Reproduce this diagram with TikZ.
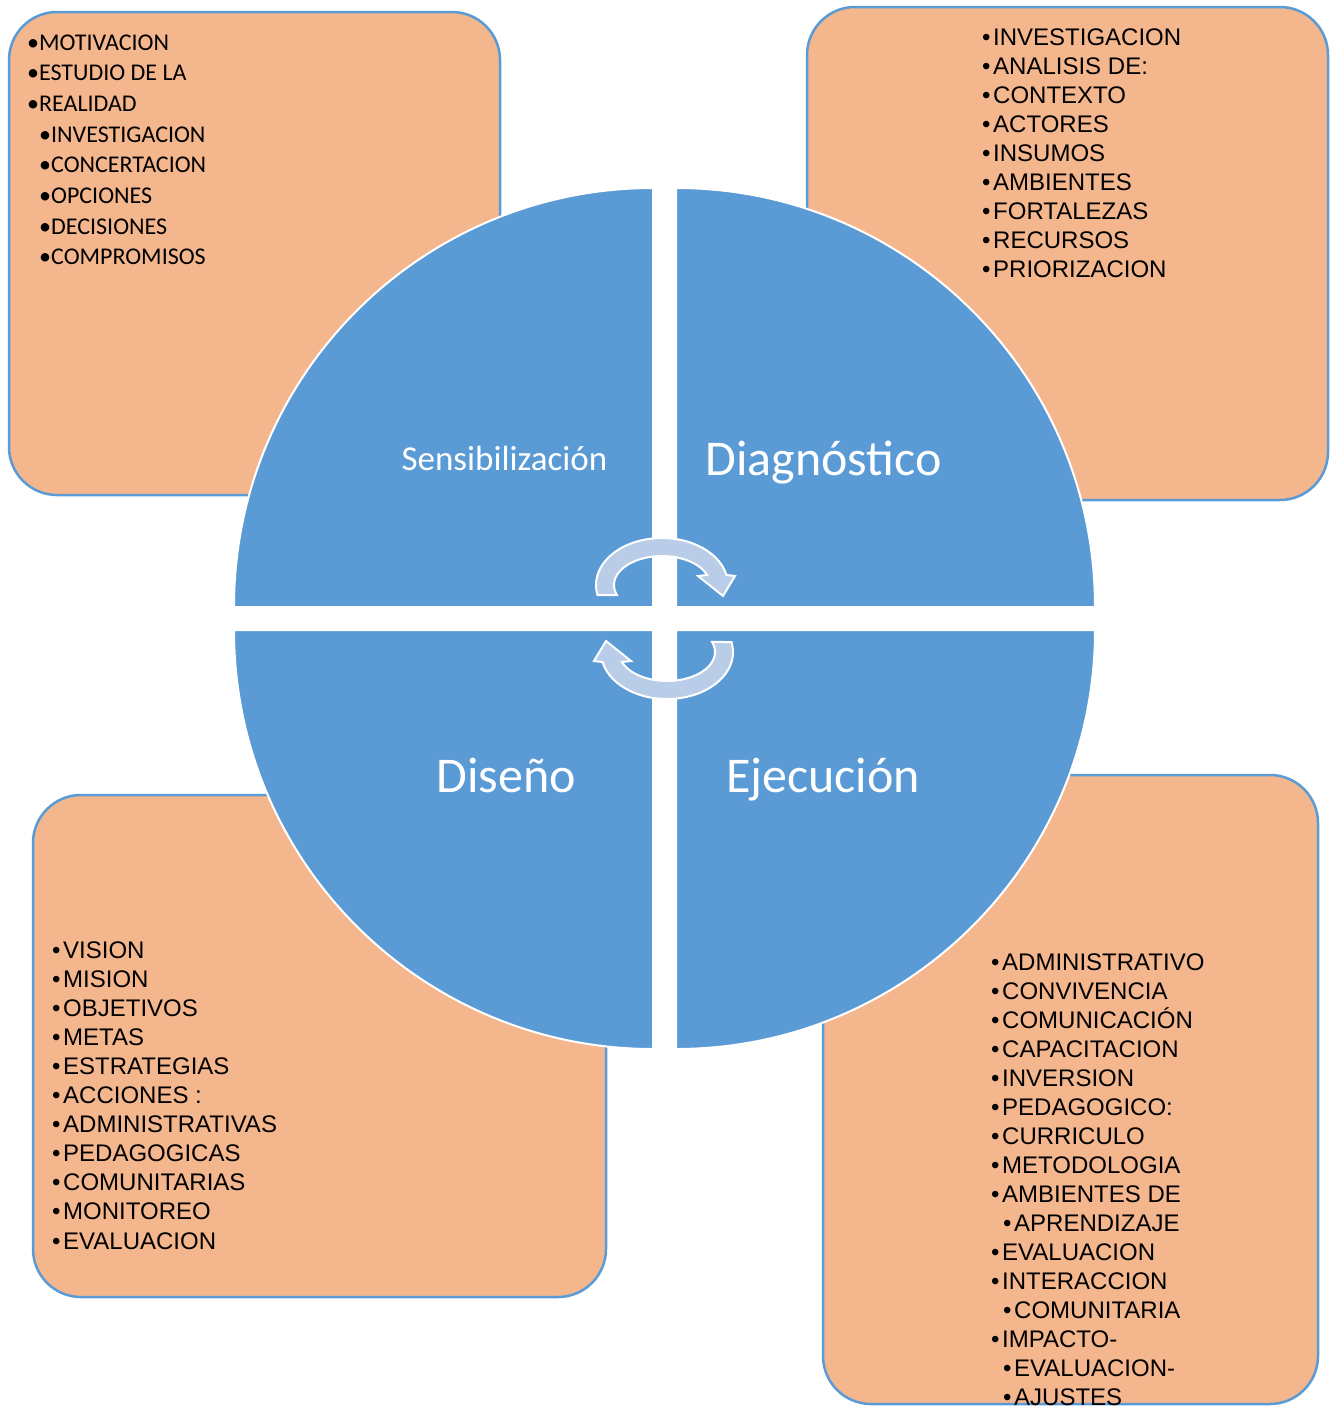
\documentclass[tikz,border=0pt]{standalone}
\usepackage{fontspec}
\setmainfont{Liberation Sans}
\newfontfamily\calib{Carlito}
\definecolor{qblue}{HTML}{5B9BD5}
\definecolor{boxfill}{HTML}{F4B68D}
\definecolor{arrowfill}{HTML}{B9CDE9}
\begin{document}
\begin{tikzpicture}[x=1pt,y=-1pt,
  box/.style={draw=qblue, line width=2.5pt, fill=boxfill, rounded corners=48pt},
  quad/.style={fill=qblue, draw=white, line width=2pt},
  qlabel/.style={text=white, anchor=base, inner sep=0pt},
  tlitem/.style={anchor=base west, inner sep=0pt, font=\calib\fontsize{24}{29}\selectfont},
  item/.style={anchor=base west, inner sep=0pt, font=\fontsize{24}{29}\selectfont},
  circarrow/.style={fill=arrowfill, draw=white, line width=2pt, line join=miter}]
\useasboundingbox (0,0) rectangle (1330,1406);

% outer boxes
\draw[box] (9,12) rectangle (500,495);
\draw[box] (807,7) rectangle (1328,500);
\draw[box] (33,795) rectangle (606,1297);
\draw[box] (823,775) rectangle (1318,1404);

% box texts
\foreach \l/\t [count=\i] in {0/MOTIVACION,0/ESTUDIO DE LA,0/REALIDAD,1/INVESTIGACION,1/CONCERTACION,1/OPCIONES,1/DECISIONES,1/COMPROMISOS}
  \node[tlitem] (tl\i) at ({27+12*\l},{50+30.7*(\i-1)}) {•\t};

\foreach \t [count=\i] in {INVESTIGACION,ANALISIS DE:,CONTEXTO,ACTORES,INSUMOS,AMBIENTES,FORTALEZAS,RECURSOS,PRIORIZACION}
  \node[item] (tr\i) at (982,{45.5+29.05*(\i-1)}) {\makebox[11pt][l]{•}\t};

\foreach \t [count=\i] in {VISION,MISION,OBJETIVOS,METAS,ESTRATEGIAS,ACCIONES :,ADMINISTRATIVAS,PEDAGOGICAS,COMUNITARIAS,MONITOREO,EVALUACION}
  \node[item] (bl\i) at (52,{958+29.1*(\i-1)}) {\makebox[11pt][l]{•}\t};

\foreach \l/\t [count=\i] in {0/ADMINISTRATIVO,0/CONVIVENCIA,0/COMUNICACIÓN,0/CAPACITACION,0/INVERSION,0/PEDAGOGICO:,0/CURRICULO,0/METODOLOGIA,0/AMBIENTES DE,1/APRENDIZAJE,0/EVALUACION,0/INTERACCION,1/COMUNITARIA,0/IMPACTO-,1/EVALUACION-,1/AJUSTES}
  \node[item] (br\i) at ({991+12*\l},{970+29.05*(\i-1)}) {\makebox[11pt][l]{•}\t};

% quadrants
\draw[quad] (653,607) -- (234,607) arc[start angle=180,end angle=270,radius=419] -- cycle;
\draw[quad] (676,607) -- (676,188) arc[start angle=270,end angle=360,radius=419] -- cycle;
\draw[quad] (676,630) -- (1095,630) arc[start angle=0,end angle=90,radius=419] -- cycle;
\draw[quad] (653,630) -- (653,1049) arc[start angle=90,end angle=180,radius=419] -- cycle;

% labels
\node[qlabel, font=\calib\fontsize{35}{42}\selectfont] (sens) at (504.5,470) {Sensibilización};
\node[qlabel, font=\calib\fontsize{50}{60}\selectfont] (diag) at (823.5,475) {Diagnóstico};
\node[qlabel, font=\calib\fontsize{50}{60}\selectfont] (dise) at (506,792.5) {Diseño};
\node[qlabel, font=\calib\fontsize{50}{60}\selectfont] (ejec) at (823,792.5) {Ejecución};

% circular arrows
\path[circarrow] (597.5,595) arc[start angle=167.7,end angle=347.7,x radius=66,y radius=47]
  -- (735,576) -- (723,596) -- (698,576) -- (707.05,575)
  arc[start angle=339.8,end angle=159.8,x radius=48,y radius=29] -- cycle;
\path[circarrow, rotate around={180:(664.5,618.5)}] (597.5,595) arc[start angle=167.7,end angle=347.7,x radius=66,y radius=47]
  -- (735,576) -- (723,596) -- (698,576) -- (707.05,575)
  arc[start angle=339.8,end angle=159.8,x radius=48,y radius=29] -- cycle;
\end{tikzpicture}
\end{document}
